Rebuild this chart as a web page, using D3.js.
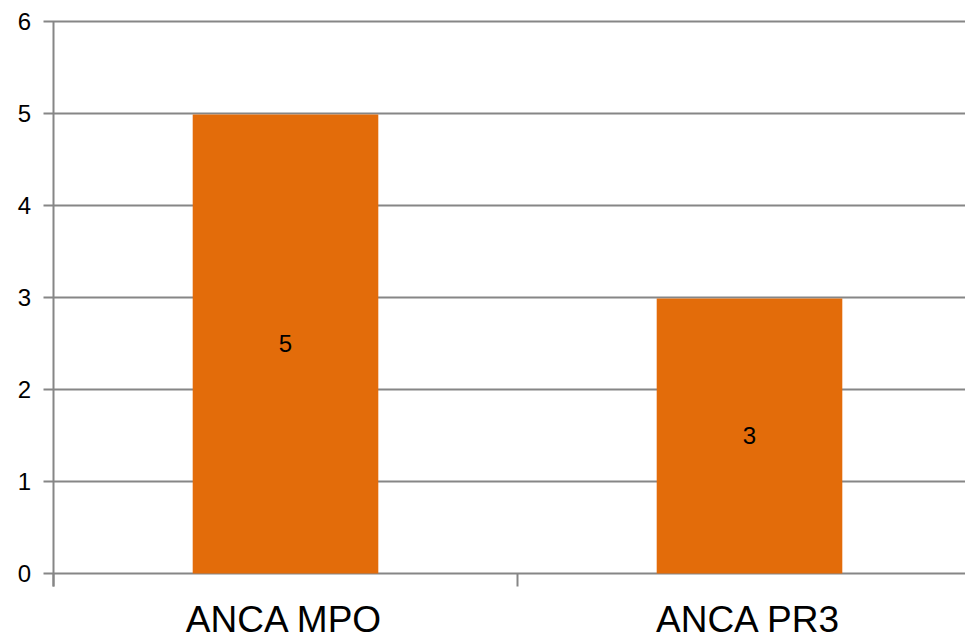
<!DOCTYPE html>
<html>
<head>
<meta charset="utf-8">
<script src="https://cdn.jsdelivr.net/npm/d3@7"></script>
<style>
  html, body { margin: 0; padding: 0; background: #fff; }
  svg { display: block; }
  text { font-family: Arial, "Liberation Sans", sans-serif; fill: #000; }
</style>
</head>
<body>
<svg id="chart" width="965" height="638"></svg>
<script>
// Category names and counts
const categories = ["ANCA MPO", "ANCA PR3"];
const counts = [5, 3];
const yTicks = [0, 1, 2, 3, 4, 5, 6];

const svg = d3.select("#chart");

const plotLeft = 53.5, plotRight = 981.5, plotTop = 21.5, plotBottom = 573.5;

const x = d3.scaleBand()
  .domain(categories)
  .range([plotLeft, plotRight])
  .paddingInner(0.6)
  .paddingOuter(0.3);

const y = d3.scaleLinear().domain([0, 6]).range([plotBottom, plotTop]);

const gridColor = "#868686";

// Horizontal gridlines (extend left to act as tick marks)
svg.append("g")
  .selectAll("line")
  .data(yTicks)
  .join("line")
  .attr("x1", plotLeft - 10)
  .attr("x2", plotRight)
  .attr("y1", d => y(d))
  .attr("y2", d => y(d))
  .attr("stroke", gridColor)
  .attr("stroke-width", 2);

// Bars
svg.append("g")
  .selectAll("rect")
  .data(categories)
  .join("rect")
  .attr("x", d => x(d))
  .attr("width", x.bandwidth())
  .attr("y", (d, i) => y(counts[i]) + 1)
  .attr("height", (d, i) => y(0) - y(counts[i]) - 1)
  .attr("fill", "#E36C0A");

// Value labels centred within bars
svg.append("g")
  .selectAll("text")
  .data(categories)
  .join("text")
  .attr("x", d => x(d) + x.bandwidth() / 2)
  .attr("y", (d, i) => (y(counts[i]) + y(0)) / 2)
  .attr("dy", "0.36em")
  .attr("text-anchor", "middle")
  .attr("font-size", 24)
  .text((d, i) => counts[i]);

// Y axis line
svg.append("line")
  .attr("x1", plotLeft).attr("x2", plotLeft)
  .attr("y1", plotTop).attr("y2", plotBottom + 13)
  .attr("stroke", gridColor)
  .attr("stroke-width", 2);

// Category boundary tick marks
const boundaries = [plotLeft, plotLeft + x.step()];
svg.append("g")
  .selectAll("line")
  .data(boundaries)
  .join("line")
  .attr("x1", d => d).attr("x2", d => d)
  .attr("y1", plotBottom).attr("y2", plotBottom + 13)
  .attr("stroke", gridColor)
  .attr("stroke-width", 2);

// Y tick labels
svg.append("g")
  .selectAll("text")
  .data(yTicks)
  .join("text")
  .attr("x", 31)
  .attr("y", d => y(d))
  .attr("dy", "0.36em")
  .attr("text-anchor", "end")
  .attr("font-size", 24)
  .text(d => d);

// Category labels
svg.append("g")
  .selectAll("text")
  .data(categories)
  .join("text")
  .attr("x", d => x(d) + x.bandwidth() / 2 - 2)
  .attr("y", 632)
  .attr("text-anchor", "middle")
  .attr("font-size", 37)
  .text(d => d);
</script>
</body>
</html>
